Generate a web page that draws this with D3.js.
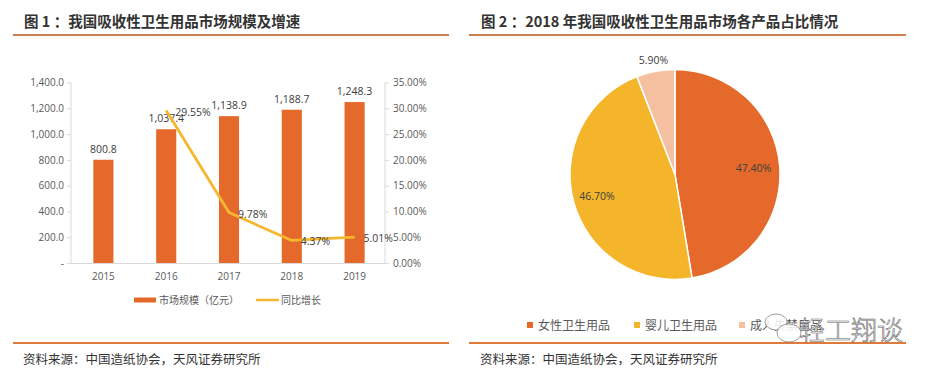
<!DOCTYPE html>
<html>
<head>
<meta charset="utf-8">
<script src="https://cdn.jsdelivr.net/npm/d3@7"></script>
<style>
  body { margin: 0; background: #fff; }
  text { font-family: "Noto Sans CJK SC", "Noto Sans", sans-serif; }
  .num { font-family: "Open Sans", "Noto Sans", sans-serif; }
</style>
</head>
<body>
<div id="vis"></div>
<script>
// figure 1: market size and growth
var years = ['2015', '2016', '2017', '2018', '2019'];
var marketSize = [800.8, 1037.4, 1138.9, 1188.7, 1248.3];
var growthYears = ['2016', '2017', '2018', '2019'];
var growthRate = [0.2955, 0.0978, 0.0437, 0.0501];
var leftTicks = [0, 200, 400, 600, 800, 1000, 1200, 1400];
var rightTicks = [0, 0.05, 0.10, 0.15, 0.20, 0.25, 0.30, 0.35];

// figure 2: product share 2018
var products = ['女性卫生用品', '婴儿卫生用品', '成人失禁用品'];
var productShare = [0.474, 0.467, 0.059];
var productColors = ['#e4692a', '#f4b52b', '#f4c0a0'];

var width = 926, height = 373;
var barColor = '#e4692a', lineColor = '#f5b730';

var svg = d3.select('#vis').append('svg')
  .attr('width', width)
  .attr('height', height);

// ---- headers / footers
function panelFrame(x0, x1, title, titleX) {
  svg.append('text')
    .attr('x', titleX).attr('y', 27)
    .attr('font-size', 14.5).attr('font-weight', 'bold')
    .attr('fill', '#333')
    .text(title);
  svg.append('line')
    .attr('x1', x0).attr('x2', x1).attr('y1', 35).attr('y2', 35)
    .attr('stroke', '#c8804f').attr('stroke-width', 2);
  svg.append('line')
    .attr('x1', x0).attr('x2', x1).attr('y1', 343).attr('y2', 343)
    .attr('stroke', '#e07a3a').attr('stroke-width', 2);
  svg.append('text')
    .attr('x', titleX - 1).attr('y', 364)
    .attr('font-size', 12.5).attr('fill', '#333')
    .text('资料来源：中国造纸协会，天风证券研究所');
}
panelFrame(13, 449, '图 1 ：我国吸收性卫生用品市场规模及增速', 24);
panelFrame(469, 906, '图 2 ：2018 年我国吸收性卫生用品市场各产品占比情况', 481);

// ---- bar + line chart
var x = d3.scaleBand().domain(years).range([72, 386]).paddingInner(0.68).paddingOuter(0.34);
var yL = d3.scaleLinear().domain([0, 1400]).range([263, 82.5]);
var yR = d3.scaleLinear().domain([0, 0.35]).range([263, 82.5]);

var axisColor = '#d9d9d9', tickText = '#595959';

var gl = svg.append('g').attr('transform', 'translate(71,0)')
  .call(d3.axisLeft(yL).tickValues(leftTicks).tickSize(4).tickPadding(3)
    .tickFormat(function (d) { return d === 0 ? '-' : d3.format(',.1f')(d); }));
var gr = svg.append('g').attr('transform', 'translate(385,0)')
  .call(d3.axisRight(yR).tickValues(rightTicks).tickSize(4).tickPadding(4)
    .tickFormat(d3.format('.2%')));
[gl, gr].forEach(function (g) {
  g.select('.domain').attr('stroke', axisColor).attr('d', 'M0,82.5V263');
  g.selectAll('.tick line').attr('stroke', axisColor);
  g.selectAll('.tick text').attr('class', 'num').attr('fill', tickText).attr('font-size', 10);
});

svg.append('line')
  .attr('x1', 71).attr('x2', 385).attr('y1', 263.5).attr('y2', 263.5)
  .attr('stroke', axisColor);

var gx = svg.append('g').attr('transform', 'translate(0,263)')
  .call(d3.axisBottom(x).tickSize(0).tickPadding(10));
gx.select('.domain').remove();
gx.selectAll('.tick text').attr('class', 'num').attr('fill', tickText).attr('font-size', 10);

svg.selectAll('.bar')
  .data(years)
  .enter().append('rect')
  .attr('class', 'bar')
  .attr('x', function (d) { return x(d); })
  .attr('width', x.bandwidth())
  .attr('y', function (d, i) { return yL(marketSize[i]); })
  .attr('height', function (d, i) { return 263 - yL(marketSize[i]); })
  .attr('fill', barColor);

svg.selectAll('.barlabel')
  .data(years)
  .enter().append('text')
  .attr('class', 'num')
  .attr('x', function (d) { return x(d) + x.bandwidth() / 2; })
  .attr('y', function (d, i) { return yL(marketSize[i]) - 7; })
  .attr('text-anchor', 'middle')
  .attr('font-size', 10.5).attr('fill', '#404040')
  .text(function (d, i) { return d3.format(',.1f')(marketSize[i]); });

var line = d3.line()
  .x(function (d, i) { return x(growthYears[i]) + x.bandwidth() / 2; })
  .y(function (d) { return yR(d); });

svg.append('path')
  .datum(growthRate)
  .attr('d', line)
  .attr('fill', 'none')
  .attr('stroke', lineColor)
  .attr('stroke-width', 2.8)
  .attr('stroke-linejoin', 'round');

svg.selectAll('.linelabel')
  .data(growthRate)
  .enter().append('text')
  .attr('class', 'num')
  .attr('x', function (d, i) { return x(growthYears[i]) + x.bandwidth() / 2 + 9; })
  .attr('y', function (d) { return yR(d) + 5; })
  .attr('font-size', 10.5).attr('fill', '#404040')
  .text(function (d) { return d3.format('.2%')(d); });

// legend
var lg = svg.append('g');
lg.append('rect').attr('x', 134).attr('y', 297.5).attr('width', 22).attr('height', 5).attr('fill', barColor);
lg.append('text').attr('x', 159).attr('y', 304).attr('font-size', 10).attr('fill', tickText).text('市场规模（亿元）');
lg.append('line').attr('x1', 256).attr('x2', 279).attr('y1', 300).attr('y2', 300)
  .attr('stroke', lineColor).attr('stroke-width', 2.5);
lg.append('text').attr('x', 281).attr('y', 304).attr('font-size', 10).attr('fill', tickText).text('同比增长');

// ---- pie
var cx = 675, cy = 174.5, r = 105;
var pie = d3.pie().sort(null).value(function (d) { return d; });
var arcs = pie(productShare);
var arc = d3.arc().innerRadius(0).outerRadius(r);
var pg = svg.append('g').attr('transform', 'translate(' + cx + ',' + cy + ')');

pg.selectAll('path')
  .data(arcs)
  .enter().append('path')
  .attr('d', arc)
  .attr('fill', function (d, i) { return productColors[i]; })
  .attr('stroke', '#fff')
  .attr('stroke-width', 1.5);

var labelR = [0.75 * r, 0.77 * r, 1.11 * r];
pg.selectAll('.pielabel')
  .data(arcs)
  .enter().append('text')
  .attr('class', 'num')
  .attr('x', function (d, i) { var a = (d.startAngle + d.endAngle) / 2; return Math.sin(a) * labelR[i]; })
  .attr('y', function (d, i) { var a = (d.startAngle + d.endAngle) / 2; return -Math.cos(a) * labelR[i] + 4; })
  .attr('text-anchor', 'middle')
  .attr('font-size', 10.5).attr('fill', '#404040')
  .text(function (d) { return d3.format('.2%')(d.data); });

// pie legend
var legX = [527, 634, 739];
var pl = svg.selectAll('.pieleg')
  .data(products)
  .enter().append('g')
  .attr('transform', function (d, i) { return 'translate(' + legX[i] + ',0)'; });
pl.append('rect').attr('x', 0).attr('y', 322).attr('width', 6).attr('height', 6)
  .attr('fill', function (d, i) { return productColors[i]; });
pl.append('text').attr('x', 11).attr('y', 330).attr('font-size', 12).attr('fill', '#595959')
  .text(function (d) { return d; });

// watermark
var wm = svg.append('g');
wm.append('ellipse').attr('cx', 776).attr('cy', 322).attr('rx', 11).attr('ry', 8)
  .attr('fill', '#fff').attr('fill-opacity', 0.85).attr('stroke', '#777').attr('stroke-width', 0.7);
wm.append('ellipse').attr('cx', 789).attr('cy', 333).attr('rx', 12).attr('ry', 9)
  .attr('fill', '#fff').attr('fill-opacity', 0.85).attr('stroke', '#777').attr('stroke-width', 0.7);
wm.append('text').attr('x', 799).attr('y', 340)
  .attr('font-size', 26).attr('font-weight', 300).attr('fill', '#fff').attr('stroke', '#666').attr('stroke-width', 0.6)
  .text('轻工翔谈');
</script>
</body>
</html>
